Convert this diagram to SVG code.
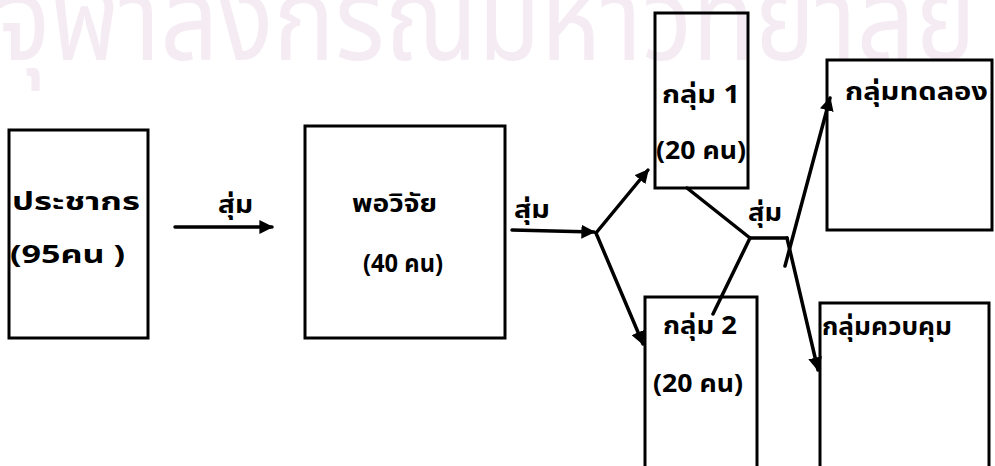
<svg xmlns="http://www.w3.org/2000/svg" width="995" height="466" viewBox="0 0 995 466">
<style>
.box{fill:none;stroke:#000;stroke-width:3}
.ln{fill:none;stroke:#000;stroke-width:3.5;stroke-linecap:round;stroke-linejoin:round}
.t{font-family:"Noto Sans Thai","Noto Sans","DejaVu Sans",sans-serif;font-weight:bold;font-size:25px;fill:#000}
.wm{font-family:"Noto Sans Thai","Noto Sans","DejaVu Sans",sans-serif;font-size:118px;fill:#f4ebf3}
</style>
<defs>
<marker id="ah" viewBox="0 0 10 10" refX="9" refY="5" markerWidth="4" markerHeight="4" orient="auto" markerUnits="strokeWidth">
<path d="M0,0 L10,5 L0,10 z" fill="#000"/>
</marker>
</defs>
<rect width="995" height="466" fill="#fff"/>
<text class="wm" x="-4" y="60" textLength="980" lengthAdjust="spacingAndGlyphs">จุฬาลงกรณ์มหาวิทยาลัย</text>

<g id="connectors">
<line class="ln" x1="175" y1="227" x2="272" y2="227" marker-end="url(#ah)"/>
<text class="t" x="218" y="213" textLength="35" lengthAdjust="spacingAndGlyphs">สุ่ม</text>
<line class="ln" x1="512" y1="230" x2="594" y2="232" marker-end="url(#ah)"/>
<text class="t" x="514" y="218" textLength="36" lengthAdjust="spacingAndGlyphs">สุ่ม</text>
<line class="ln" x1="596" y1="233" x2="648" y2="170" marker-end="url(#ah)"/>
<line class="ln" x1="596" y1="233" x2="643" y2="344" marker-end="url(#ah)"/>
<polyline class="ln" points="687,188 750,238 787,238"/>
<line class="ln" x1="750" y1="238" x2="713" y2="314"/>
<line class="ln" x1="785" y1="266" x2="830" y2="98" marker-end="url(#ah)"/>
<line class="ln" x1="787" y1="238" x2="818" y2="370" marker-end="url(#ah)"/>
<text class="t" x="748" y="221" textLength="34" lengthAdjust="spacingAndGlyphs">สุ่ม</text>
</g>

<g id="population">
<rect class="box" x="9" y="130" width="139" height="208"/>
<text class="t" x="12" y="210" textLength="128" lengthAdjust="spacingAndGlyphs">ประชากร</text>
<text class="t" x="10" y="263" textLength="115" lengthAdjust="spacingAndGlyphs">(95คน )</text>
</g>

<g id="sample">
<rect class="box" x="305" y="126" width="200" height="212"/>
<text class="t" x="352" y="212" textLength="85" lengthAdjust="spacingAndGlyphs">พอวิจัย</text>
<text class="t" x="363" y="272" textLength="80" lengthAdjust="spacingAndGlyphs">(40 คน)</text>
</g>

<g id="group1">
<rect class="box" x="655" y="13" width="93" height="175"/>
<text class="t" x="662" y="103" textLength="78" lengthAdjust="spacingAndGlyphs">กลุ่ม 1</text>
<text class="t" x="656" y="159" textLength="90" lengthAdjust="spacingAndGlyphs">(20 คน)</text>
</g>

<g id="group2">
<rect class="box" x="645" y="297" width="112" height="180"/>
<text class="t" x="663" y="334" textLength="74" lengthAdjust="spacingAndGlyphs">กลุ่ม 2</text>
<text class="t" x="653" y="392" textLength="90" lengthAdjust="spacingAndGlyphs">(20 คน)</text>
</g>

<g id="experimental">
<rect class="box" x="827" y="60" width="165" height="170"/>
<text class="t" x="845" y="100" textLength="143" lengthAdjust="spacingAndGlyphs">กลุ่มทดลอง</text>
</g>

<g id="control">
<rect class="box" x="820" y="303" width="169" height="180"/>
<text class="t" x="822" y="335" textLength="130" lengthAdjust="spacingAndGlyphs">กลุ่มควบคุม</text>
</g>
</svg>
